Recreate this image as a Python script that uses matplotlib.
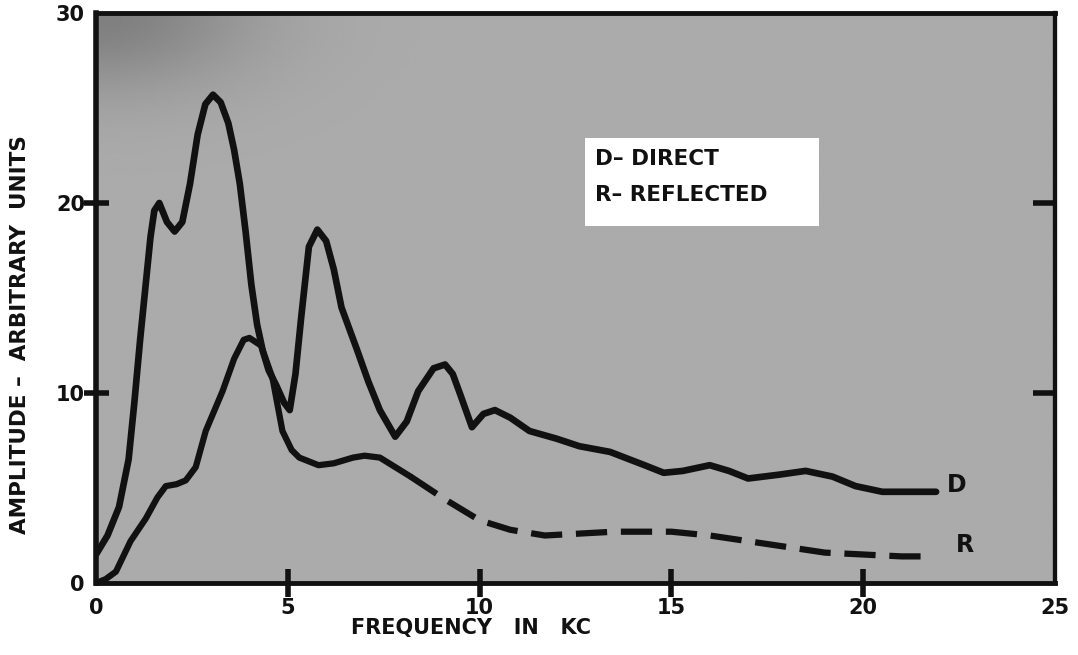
import numpy as np
import matplotlib.pyplot as plt
from matplotlib.patches import Rectangle

# Direct wave spectrum (D)
d_freq = [0.0, 0.3, 0.6, 0.85, 1.0, 1.15, 1.3, 1.42, 1.52, 1.65, 1.85, 2.05, 2.25, 2.45,
          2.65, 2.85, 3.05, 3.25, 3.45, 3.6, 3.75, 3.9, 4.05, 4.2, 4.35, 4.5, 4.7, 4.9,
          5.05, 5.2, 5.35, 5.55, 5.77, 6.0, 6.2, 6.4, 6.8, 7.1, 7.4, 7.8, 8.1, 8.4, 8.8,
          9.1, 9.3, 9.5, 9.8, 10.1, 10.4, 10.8, 11.3, 12.0, 12.6, 13.4, 14.3, 14.8, 15.3,
          16.0, 16.5, 17.0, 17.8, 18.5, 19.2, 19.8, 20.5, 21.9]
d_amp = [1.5, 2.5, 4.0, 6.5, 9.5, 12.8, 15.8, 18.2, 19.6, 20.0, 19.0, 18.5, 19.0, 21.0,
         23.6, 25.2, 25.7, 25.3, 24.2, 22.8, 21.0, 18.5, 15.7, 13.6, 12.2, 11.2, 10.4, 9.5,
         9.1, 11.0, 14.0, 17.7, 18.6, 18.0, 16.5, 14.5, 12.3, 10.6, 9.1, 7.7, 8.5, 10.1, 11.3,
         11.5, 11.0, 9.9, 8.2, 8.9, 9.1, 8.7, 8.0, 7.6, 7.2, 6.9, 6.2, 5.8, 5.9,
         6.2, 5.9, 5.5, 5.7, 5.9, 5.6, 5.1, 4.8, 4.8]

# Reflected wave spectrum (R)
r_freq = [0.0, 0.25, 0.52, 0.9, 1.3, 1.6, 1.82, 2.1, 2.34, 2.6, 2.86, 3.3, 3.6, 3.85,
          4.0, 4.3, 4.6, 4.86, 5.1, 5.3, 5.8, 6.2, 6.7, 7.0, 7.4, 8.2, 9.1, 10.0, 10.8,
          11.7, 12.6, 13.5, 14.3, 15.0, 16.0, 17.0, 18.0, 19.0, 20.0, 21.0, 21.7]
r_amp = [0.0, 0.2, 0.6, 2.2, 3.4, 4.5, 5.1, 5.2, 5.4, 6.1, 8.0, 10.1, 11.8, 12.8,
         12.9, 12.5, 10.8, 8.0, 7.0, 6.6, 6.2, 6.3, 6.6, 6.7, 6.6, 5.6, 4.4, 3.3, 2.8,
         2.5, 2.6, 2.7, 2.7, 2.7, 2.5, 2.2, 1.9, 1.6, 1.5, 1.4, 1.4]
r_dash_from = 8.2

x_ticks = [0, 5, 10, 15, 20, 25]
y_ticks = [0, 10, 20, 30]

font = 'DejaVu Sans'
ink = '#111111'

fig = plt.figure(figsize=(10.78, 6.55), dpi=100)
ax = fig.add_axes([96 / 1078, 1 - 583 / 655, (1055 - 96) / 1078, (583 - 13) / 655])

# gray screen with a darker patch in the upper left corner
gx, gy = np.meshgrid(np.linspace(0, 25, 200), np.linspace(0, 30, 200))
shade = 0.67 - 0.17 * np.exp(-((gx / 4.0) ** 2 + ((30 - gy) / 4.0) ** 2))
ax.imshow(shade, extent=[0, 25, 0, 30], origin='lower', aspect='auto',
          cmap='gray', vmin=0, vmax=1, zorder=0, interpolation='bilinear')

d_freq = np.array(d_freq)
d_amp = np.array(d_amp)
r_freq = np.array(r_freq)
r_amp = np.array(r_amp)

ax.plot(d_freq, d_amp, color=ink, lw=4.8, solid_capstyle='round',
        solid_joinstyle='round', zorder=3)
solid = r_freq <= r_dash_from
dashed = r_freq >= r_dash_from
ax.plot(r_freq[solid], r_amp[solid], color=ink, lw=4.5, solid_capstyle='round',
        solid_joinstyle='round', zorder=3)
ax.plot(r_freq[dashed], r_amp[dashed], color=ink, lw=4.5, linestyle=(0, (5.0, 2.2)),
        dash_capstyle='butt', zorder=3)

ax.text(22.45, 5.15, 'D', fontsize=17, family=font, weight='bold', color=ink,
        ha='center', va='center')
ax.text(22.65, 2.0, 'R', fontsize=17, family=font, weight='bold', color=ink,
        ha='center', va='center')

# key box
ax.add_patch(Rectangle((12.75, 18.8), 6.1, 4.6, facecolor='white', edgecolor='none', zorder=2))
ax.text(13.0, 22.3, 'D– DIRECT', fontsize=15.5, family=font, weight='bold', color=ink,
        va='center', zorder=4)
ax.text(13.0, 20.4, 'R– REFLECTED', fontsize=15.5, family=font, weight='bold', color=ink,
        va='center', zorder=4)

ax.set_xlim(0, 25)
ax.set_ylim(0, 30)
ax.xaxis.remove_overlapping_locs = False
ax.yaxis.remove_overlapping_locs = False
ax.set_xticks(x_ticks)
ax.set_xticklabels([str(v) for v in x_ticks])
ax.set_yticks(y_ticks)
ax.set_yticklabels([str(v) for v in y_ticks])
ax.set_xticks(x_ticks[1:-1], minor=True)
ax.set_yticks(y_ticks[1:-1], minor=True)
ax.tick_params(which='major', length=0, labelsize=15, colors=ink)
ax.tick_params(axis='x', which='major', pad=11)
ax.tick_params(axis='y', which='major', pad=8)
ax.tick_params(axis='x', which='minor', direction='inout', length=20, width=4, color=ink)
ax.tick_params(axis='y', which='minor', direction='inout', length=18, width=4, color=ink,
               left=True, right=False)
for lbl in ax.get_xticklabels() + ax.get_yticklabels():
    lbl.set_family(font)
    lbl.set_weight('bold')

# inward marks on the right-hand frame
right = ax.secondary_yaxis('right')
right.set_yticks(y_ticks[1:-1])
right.tick_params(direction='in', length=16, width=4, color=ink, labelright=False)
right.spines['right'].set_linewidth(3)
right.spines['right'].set_color(ink)

for side, w in [('left', 4), ('bottom', 3.5), ('top', 3.5), ('right', 3)]:
    ax.spines[side].set_linewidth(w)
    ax.spines[side].set_color(ink)

fig.text(471 / 1078, 1 - 628 / 655, 'FREQUENCY   IN   KC', fontsize=15, family=font,
         weight='bold', color=ink, ha='center', va='center')
fig.text(20 / 1078, 1 - 335 / 655, 'AMPLITUDE –  ARBITRARY  UNITS', fontsize=15.5,
         family=font, weight='bold', color=ink, ha='center', va='center', rotation=90)

fig.savefig('out.png', dpi=100, facecolor='white')
